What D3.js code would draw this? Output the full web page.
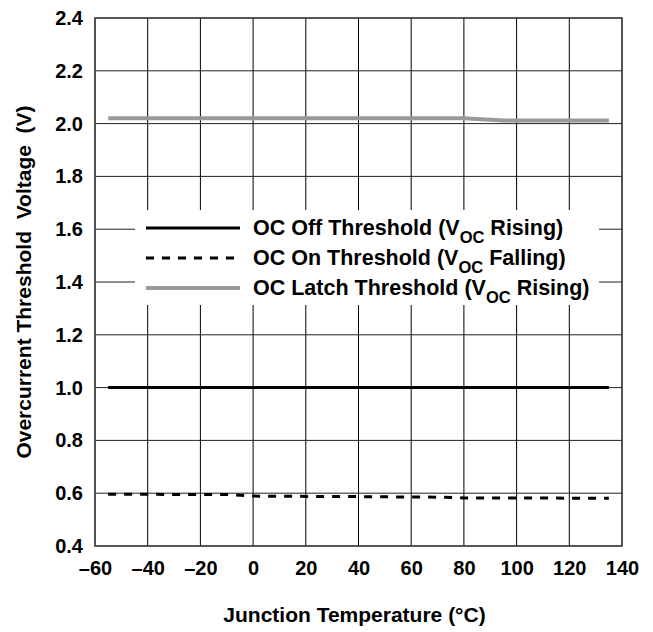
<!DOCTYPE html>
<html>
<head>
<meta charset="utf-8">
<script src="https://cdn.jsdelivr.net/npm/d3@7"></script>
<style>
  html, body { margin: 0; padding: 0; background: #fff; overflow: hidden; }
  svg { display: block; }
  svg text { font-family: "Liberation Sans", Arial, sans-serif; font-weight: bold; fill: #000; }
</style>
</head>
<body>
<div id="chart"></div>
<script>
const xTicks = [-60, -40, -20, 0, 20, 40, 60, 80, 100, 120, 140]
const yTicks = [0.4, 0.6, 0.8, 1.0, 1.2, 1.4, 1.6, 1.8, 2.0, 2.2, 2.4]

const offTemps = [-55, 135]
const offValues = [1.0, 1.0]

const onTemps = [-55, -10, 0, 40, 70, 80, 135]
const onValues = [0.596, 0.595, 0.589, 0.587, 0.585, 0.582, 0.581]

const latchTemps = [-55, 80, 95, 135]
const latchValues = [2.02, 2.02, 2.012, 2.012]

const seriesNames = [
  ['OC Off Threshold (V', 'OC', ' Rising)'],
  ['OC On Threshold (V', 'OC', ' Falling)'],
  ['OC Latch Threshold (V', 'OC', ' Rising)']
]

const width = 653, height = 632
const margin = { top: 18, right: 31, bottom: 86, left: 95 }
const innerWidth = width - margin.left - margin.right
const innerHeight = height - margin.top - margin.bottom

const svg = d3.select('#chart').append('svg')
  .attr('width', width)
  .attr('height', height)

const g = svg.append('g')
  .attr('transform', `translate(${margin.left}, ${margin.top})`)

const x = d3.scaleLinear().domain([-60, 140]).range([0, innerWidth])
const y = d3.scaleLinear().domain([0.4, 2.4]).range([innerHeight, 0])

// grid
g.selectAll('.vgrid')
  .data(xTicks)
  .join('line')
  .attr('x1', d => x(d)).attr('x2', d => x(d))
  .attr('y1', 0).attr('y2', innerHeight)
  .attr('stroke', '#000').attr('stroke-width', 1)

g.selectAll('.hgrid')
  .data(yTicks)
  .join('line')
  .attr('x1', 0).attr('x2', innerWidth)
  .attr('y1', d => y(d)).attr('y2', d => y(d))
  .attr('stroke', '#222').attr('stroke-width', 1)

// frame
g.append('rect')
  .attr('width', innerWidth).attr('height', innerHeight)
  .attr('fill', 'none').attr('stroke', '#444').attr('stroke-width', 1.5)

// axes (labels only)
const xAxis = g.append('g')
  .attr('transform', `translate(0, ${innerHeight})`)
  .call(d3.axisBottom(x).tickValues(xTicks).tickSize(0).tickPadding(15)
    .tickFormat(d => d < 0 ? '\u2013' + Math.abs(d) : d))
xAxis.select('.domain').remove()
xAxis.selectAll('text').style('font-size', '20px')

const yAxis = g.append('g')
  .call(d3.axisLeft(y).tickValues(yTicks).tickSize(0).tickPadding(12)
    .tickFormat(d3.format('.1f')))
yAxis.select('.domain').remove()
yAxis.selectAll('text').style('font-size', '20px')

// axis titles
svg.append('text')
  .attr('x', margin.left + innerWidth / 2 - 4)
  .attr('y', 622)
  .attr('text-anchor', 'middle')
  .style('font-size', '21px')
  .text('Junction Temperature (\u00B0C)')

svg.append('text')
  .attr('transform', `translate(31, ${margin.top + innerHeight / 2}) rotate(-90)`)
  .attr('text-anchor', 'middle')
  .style('font-size', '21px')
  .style('white-space', 'pre')
  .text('Overcurrent Threshold  Voltage  (V)')

// lines
const line = d3.line().x(d => x(d[0])).y(d => y(d[1]))

g.append('path')
  .datum(d3.zip(latchTemps, latchValues))
  .attr('d', line)
  .attr('fill', 'none').attr('stroke', '#999').attr('stroke-width', 4)

g.append('path')
  .datum(d3.zip(offTemps, offValues))
  .attr('d', line)
  .attr('fill', 'none').attr('stroke', '#000').attr('stroke-width', 3)

g.append('path')
  .datum(d3.zip(onTemps, onValues))
  .attr('d', line)
  .attr('fill', 'none').attr('stroke', '#000').attr('stroke-width', 3)
  .attr('stroke-dasharray', '8,8')

// legend
const legend = svg.append('g')
legend.append('rect')
  .attr('x', 135).attr('y', 210)
  .attr('width', 464).attr('height', 95)
  .attr('fill', '#fff')

const styles = [
  { color: '#000', w: 3, dash: null },
  { color: '#000', w: 3, dash: '8,8' },
  { color: '#999', w: 4, dash: null }
]

seriesNames.forEach((n, i) => {
  const ly = 228 + i * 30
  legend.append('line')
    .attr('x1', 146).attr('x2', 240)
    .attr('y1', ly).attr('y2', ly)
    .attr('stroke', styles[i].color)
    .attr('stroke-width', styles[i].w)
    .attr('stroke-dasharray', styles[i].dash)
  const t = legend.append('text')
    .attr('x', 253).attr('y', ly + 6.5)
    .style('font-size', '21.5px')
  t.append('tspan').text(n[0])
  t.append('tspan').attr('dy', 8).style('font-size', '16.5px').text(n[1])
  t.append('tspan').attr('dy', -8).text(n[2])
})
</script>
</body>
</html>
